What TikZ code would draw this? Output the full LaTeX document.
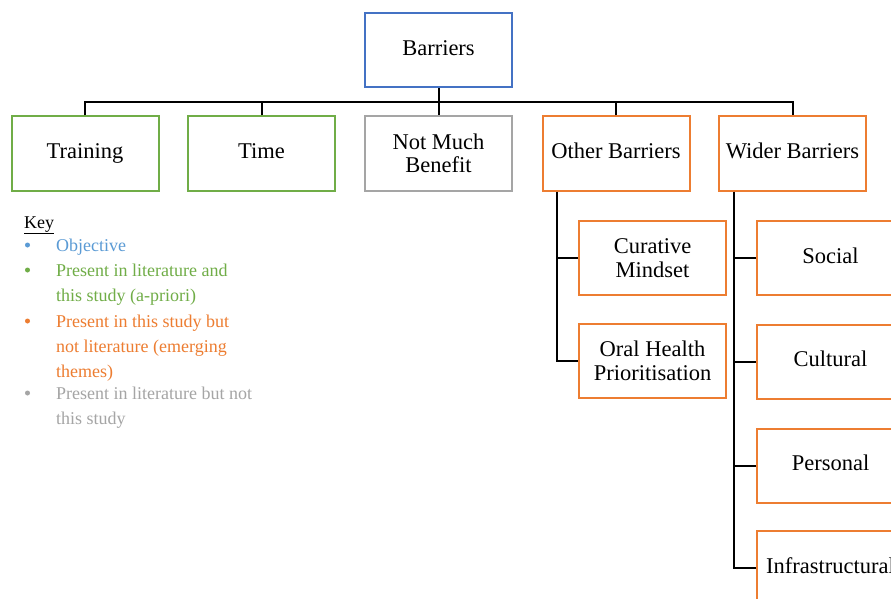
\documentclass[tikz,border=0pt]{standalone}
\usepackage{fontspec}
\setmainfont{Liberation Serif}
\definecolor{cblue}{HTML}{4472C4}
\definecolor{kblue}{HTML}{5B9BD5}
\definecolor{cgreen}{HTML}{70AD47}
\definecolor{corange}{HTML}{ED7D31}
\definecolor{cgrey}{HTML}{A5A5A5}
\tikzset{
  box/.style={draw, line width=2pt, fill=white, minimum width=147pt, minimum height=74pt,
    align=center, inner sep=2pt, font=\fontsize{22.5}{23.5}\selectfont},
  oneline/.style={text height=15.5pt, text depth=5pt},
  bluebox/.style={box, draw=cblue},
  greenbox/.style={box, draw=cgreen},
  greybox/.style={box, draw=cgrey},
  orangebox/.style={box, draw=corange},
  conn/.style={draw=black, line width=2pt},
  keyline/.style={anchor=base west, inner sep=0pt, font=\fontsize{18}{25}\selectfont},
  keydot/.style={circle, inner sep=0pt, minimum size=5pt},
}
\begin{document}
\begin{tikzpicture}[x=1pt,y=-1pt]
\useasboundingbox (0,0) rectangle (891,599);
\clip (0,0) rectangle (891,599);
\fill[white] (0,0) rectangle (891,599);

% top
\node[bluebox, oneline] (bar) at (438.5,50) {Barriers};
\node[greenbox, oneline] (train) at (85,153.5) {Training};
\node[greenbox, oneline] (time) at (261.5,153.5) {Time};
\node[greybox] (nmb) at (438.5,153.5) {Not Much\\Benefit};
\node[orangebox, oneline] (other) at (616,153.5) {Other Barriers};
\node[orangebox, oneline] (wider) at (792.5,153.5) {Wider Barriers};

% other barriers children
\node[orangebox] (cur) at (652.5,258) {Curative\\Mindset};
\node[orangebox] (oral) at (652.5,361) {Oral Health\\Prioritisation};

% wider barriers children
\node[orangebox, oneline] (soc) at (830.5,258) {Social};
\node[orangebox, oneline] (cult) at (830.5,361.5) {Cultural};
\node[orangebox, oneline] (pers) at (830.5,465.5) {Personal};
\node[orangebox, oneline] (infra) at (830.5,568) {Infrastructural};

% bus
\coordinate (busy) at (0,102);
\coordinate (ox) at (557,0);
\coordinate (wx) at (734,0);
\draw[conn] (bar.south) -- (nmb.north);
\draw[conn] (train.north) -- (train.north |- busy) -- (wider.north |- busy) -- (wider.north);
\draw[conn] (time.north) -- (time.north |- busy);
\draw[conn] (other.north) -- (other.north |- busy);

\draw[conn] (other.south -| ox) |- (oral.west);
\draw[conn] (ox |- cur.west) -- (cur.west);

\draw[conn] (wider.south -| wx) |- (infra.west);
\draw[conn] (wx |- soc.west) -- (soc.west);
\draw[conn] (wx |- cult.west) -- (cult.west);
\draw[conn] (wx |- pers.west) -- (pers.west);

% key
\node[keyline] (key) at (24,228) {\underline{Key}};
\node[keydot, fill=kblue] (d1) at (27.5,245) {};
\node[keyline, text=kblue] (k1) at (56,251) {Objective};
\node[keydot, fill=cgreen] (d2) at (27.5,270) {};
\node[keyline, text=cgreen] (k2a) at (56,276) {Present in literature and};
\node[keyline, text=cgreen] (k2b) at (56,301) {this study (a-priori)};
\node[keydot, fill=corange] (d3) at (27.5,321) {};
\node[keyline, text=corange] (k3a) at (56,327) {Present in this study but};
\node[keyline, text=corange] (k3b) at (56,352) {not literature (emerging};
\node[keyline, text=corange] (k3c) at (56,377) {themes)};
\node[keydot, fill=cgrey] (d4) at (27.5,393) {};
\node[keyline, text=cgrey] (k4a) at (56,399) {Present in literature but not};
\node[keyline, text=cgrey] (k4b) at (56,424) {this study};
\end{tikzpicture}
\end{document}
